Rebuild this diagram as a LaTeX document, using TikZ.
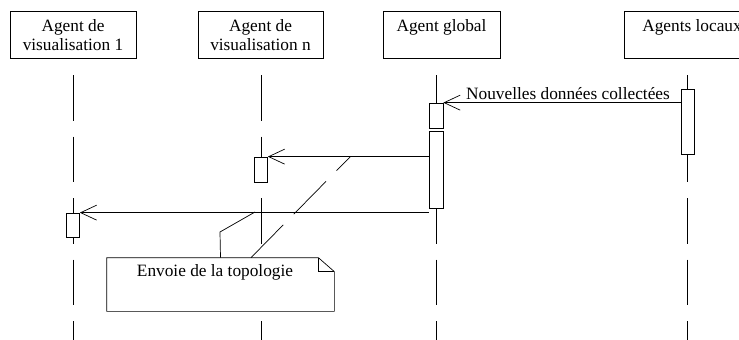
\documentclass[tikz,border=0pt]{standalone}
\usepackage{fontspec}
\setmainfont{Liberation Serif}
\usepackage{tikz}
\usetikzlibrary{calc,arrows.meta}

\begin{document}
\begin{tikzpicture}[x=1pt,y=-1pt,line width=0.7pt,
    font=\fontsize{17.3}{19}\selectfont,
    header/.style={draw,align=center,anchor=north,minimum height=47pt,inner ysep=7pt,inner xsep=0pt},
    lifeline/.style={dash pattern=on 45.5pt off 16pt},
    act/.style={draw,fill=white,inner sep=0pt,minimum width=13pt},
    msg/.style={-{Straight Barb[length=16pt,width=15pt]}}]
                \clip (0,0) rectangle (739,340);
                \fill[white] (0,0) rectangle (739,340);

                % les agents
                \node [header, minimum width=126pt] (vis1) at (73,11) {Agent de\\visualisation 1};
                \node [header, minimum width=125pt] (visn) at (260.5,11) {Agent de\\visualisation n};
                \node [header, minimum width=117pt] (global) at (441.5,11) {Agent global\\~};
                \node [header, minimum width=136pt] (locaux) at (692,11) {Agents locaux\\~};

                % lignes de vie
                \draw [lifeline] (73,75) coordinate (l1) -- (73,340);
                \draw [lifeline] (261,75) coordinate (ln) -- (261,340);
                \draw [lifeline] (436,75) coordinate (lg) -- (436,340);
                \draw [lifeline] (687.5,75) coordinate (ll) -- (687.5,340);

                % activations
                \node [act, minimum height=65pt] (actL) at (687.5,121.5) {};
                \node [act, minimum width=14pt, minimum height=25pt] (actG1) at (436,115.5) {};
                \node [act, minimum width=14pt, minimum height=77pt] (actG2) at (436,169.5) {};
                \node [act, minimum height=25pt] (actN) at (261,169.5) {};
                \node [act, minimum height=24pt] (act1) at (73,225) {};

                % messages
                \draw [msg] (actL.west |- actG1.north) -- node [above=-1pt, xshift=6pt] (nouv) {Nouvelles données collectées} (actG1.north east);
                \draw [msg] (actG2.west |- actN.north) -- (actN.north east);
                \draw [msg] (actG2.west |- act1.north) -- (act1.north east);

                % la note
                \node [inner sep=0pt, minimum width=227pt, minimum height=53pt] (note) at (220.5,284.5) {};
                \draw [fill=white] (note.north west) -- ([xshift=-16pt]note.north east) coordinate (pli)
                      -- ([yshift=-14pt]note.north east) -- (note.south east) -- (note.south west) -- cycle;
                \draw (pli) -- ++(0,14) -- ++(16,0);
                \node [anchor=base] (notetxt) at (215,276) {Envoie de la topologie};

                \coordinate (m3) at (255,212);
                \coordinate (m2) at (350,157);
                \draw (note.north) -- (220,232) -- (m3);
                \draw [dash pattern=on 46pt off 15pt] ([xshift=30.5pt]note.north) -- (m2);
            \end{tikzpicture}
\end{document}
